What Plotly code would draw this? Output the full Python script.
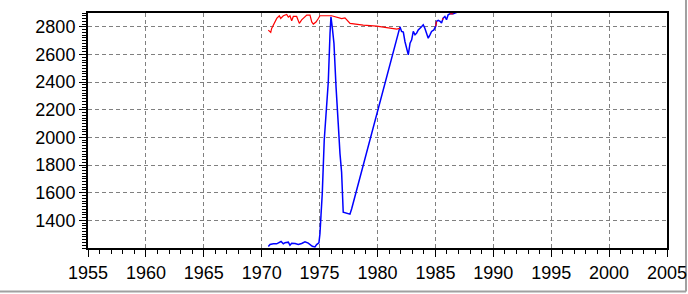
import plotly.graph_objects as go

# Blue series (years, values)
blue_x = [1970.57, 1970.72, 1971.00, 1971.29, 1971.67, 1971.87, 1972.01, 1972.30, 1972.44, 1972.59,
          1972.88, 1973.16, 1973.45, 1973.74, 1974.02, 1974.17, 1974.37, 1974.60, 1974.74, 1974.94,
          1975.03, 1975.12, 1975.23, 1975.40, 1975.52, 1975.75, 1975.90, 1975.98, 1976.09, 1976.24,
          1976.42, 1976.53, 1976.61, 1976.76, 1976.90, 1977.04, 1977.19, 1977.62, 1977.77, 1981.94,
          1982.08, 1982.23, 1982.37, 1982.52, 1982.66, 1982.81, 1982.95, 1983.09, 1983.24, 1983.38,
          1983.52, 1983.82, 1983.95, 1984.09, 1984.24, 1984.38, 1984.53, 1984.67, 1984.87, 1985.02,
          1985.10, 1985.25, 1985.40, 1985.53, 1985.67, 1985.82, 1985.96, 1986.10, 1986.26, 1986.54,
          1986.89]
blue_y = [1211, 1225, 1230, 1230, 1247, 1230, 1238, 1242, 1220, 1235,
          1233, 1225, 1233, 1245, 1235, 1225, 1212, 1208, 1225, 1237,
          1303, 1436, 1593, 1979, 2124, 2401, 2752, 2872, 2800, 2680,
          2365, 2136, 2100, 1883, 1749, 1459, 1455, 1445, 1484, 2800,
          2767, 2762, 2694, 2633, 2597, 2682, 2706, 2767, 2742, 2754,
          2778, 2803, 2815, 2790, 2742, 2718, 2742, 2767, 2778, 2803,
          2840, 2847, 2840, 2827, 2863, 2875, 2851, 2887, 2894, 2894,
          2906]

# Red series (years, values); None marks gaps
red_x = [1970.57, 1970.78, 1970.86, 1971.30, 1971.52, 1971.64, 1971.87, 1972.16, 1972.30, 1972.44,
         1972.59, 1972.73, 1973.02, 1973.25, 1973.45, 1973.89, 1974.17, 1974.32, 1974.46, 1974.69,
         1974.89, 1975.03, 1976.04, 1976.48, 1976.91, 1977.19, 1977.63, 1978.77, 1979.93, 1981.66,
         1981.94, None, 1985.02, 1985.10, None, 1985.60, 1985.67, None, 1986.26, 1986.54]
red_y = [2776, 2760, 2788, 2861, 2880, 2861, 2880, 2890, 2870, 2880,
         2844, 2875, 2875, 2825, 2850, 2885, 2885, 2835, 2820, 2835,
         2860, 2880, 2880, 2870, 2860, 2865, 2825, 2812, 2805, 2783,
         2790, None, 2803, 2840, None, 2850, 2863, None, 2894, 2894]

y_ticks = [1400, 1600, 1800, 2000, 2200, 2400, 2600, 2800]
x_ticks = [1955, 1960, 1965, 1970, 1975, 1980, 1985, 1990, 1995, 2000, 2005]

fig = go.Figure()
fig.add_trace(go.Scatter(x=blue_x, y=blue_y, mode="lines",
                         line=dict(color="#0000ff", width=1.5), showlegend=False))
fig.add_trace(go.Scatter(x=red_x, y=red_y, mode="lines", connectgaps=False,
                         line=dict(color="#ff0000", width=1.2), showlegend=False))

font = dict(family="Liberation Sans, Arial, sans-serif", size=18, color="black")

fig.update_layout(
    width=688, height=294,
    margin=dict(l=88, r=21, t=13, b=46, autoexpand=False),
    paper_bgcolor="white", plot_bgcolor="white",
    font=font,
    xaxis=dict(range=[1955, 2005], tickmode="array", tickvals=x_ticks, automargin=False,
               ticklabeloverflow="allow",
               ticks="outside", ticklen=7, tickwidth=1, tickcolor="black",
               showline=True, linecolor="black", linewidth=2, mirror=True,
               showgrid=True, gridcolor="#808080", griddash="4px,3px", gridwidth=1,
               zeroline=False,
               minor=dict(tickmode="linear", tick0=1955, dtick=1, ticks="outside",
                          ticklen=4, tickcolor="black", showgrid=False)),
    yaxis=dict(range=[1200, 2900], tickmode="array", tickvals=y_ticks, automargin=False,
               ticklabeloverflow="allow",
               ticks="outside", ticklen=7, tickwidth=1, tickcolor="black",
               showline=True, linecolor="black", linewidth=2, mirror=True,
               showgrid=True, gridcolor="#808080", griddash="4px,3px", gridwidth=1,
               zeroline=False,
               minor=dict(tickmode="linear", tick0=1200, dtick=20, ticks="outside",
                          ticklen=4, tickcolor="black", showgrid=False)),
)

# window border (gray) at right and bottom
fig.add_shape(type="line", xref="paper", yref="paper", x0=-0.2, x1=1.0328, y0=-0.185, y1=-0.185,
              layer="below", line=dict(color="#a0a0a0", width=2))
fig.add_shape(type="line", xref="paper", yref="paper", x0=1.0328, x1=1.0328, y0=-0.185, y1=1.1,
              layer="below", line=dict(color="#a0a0a0", width=2))

fig.write_html("out.html")
